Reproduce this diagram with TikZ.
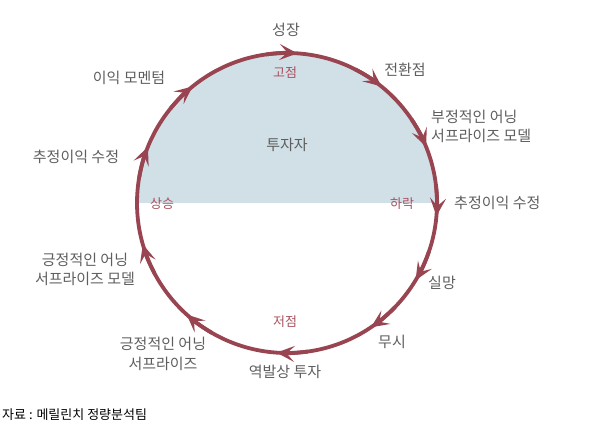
\documentclass[tikz,border=0pt]{standalone}
\usepackage{fontspec}
\setmainfont{Noto Sans CJK KR}
\usetikzlibrary{arrows.meta}
\definecolor{ringc}{HTML}{984451}
\definecolor{fillc}{HTML}{D1DFE6}
\definecolor{redlab}{HTML}{A8525F}
\definecolor{graylab}{HTML}{5E5E5E}
\tikzset{
  lab/.style={text=graylab, font=\fontsize{15bp}{19.5bp}\selectfont, inner sep=0pt, align=center},
  redl/.style={text=redlab, font=\fontsize{13bp}{15bp}\selectfont, inner sep=0pt},
  ring/.style={draw=ringc, line width=3.8bp},
  tip/.style={ringc, line width=3.8bp, -{Stealth[length=18bp,width=16bp,inset=8bp]}},
}
\begin{document}
\begin{tikzpicture}[x=1bp,y=1bp]
\useasboundingbox (0,0) rectangle (590,444);
\coordinate (c) at (287,241);
% upper half fill
\fill[fillc] ([xshift=-150bp]c) arc (180:0:150) -- cycle;
% ring
\draw[ring] (c) circle (150);
% arrowheads (clockwise)
\foreach \a in {90,55,26,-1,-27,-52,-90,-128,-160,162,133} {
  \draw[tip] ([shift={(\a+8:150)}]c) arc (\a+8:\a-4:150);
}
% labels
\node[lab] (growth) at (286,414) {성장};
\node[lab] (turn) at (405,374) {전환점};
\node[lab, anchor=west, align=left] (negsurp) at (431,317.5) {부정적인 어닝\\서프라이즈 모델};
\node[lab, anchor=west] (estR) at (454,241) {추정이익 수정};
\node[lab] (disap) at (442,161) {실망};
\node[lab] (ignore) at (392,102) {무시};
\node[lab] (contra) at (285,72) {역발상 투자};
\node[lab] (possurp) at (163,90) {긍정적인 어닝\\서프라이즈};
\node[lab] (posmodel) at (85,174.5) {긍정적인 어닝\\서프라이즈 모델};
\node[lab] (estL) at (76,287) {추정이익 수정};
\node[lab] (momentum) at (129,366) {이익 모멘텀};
\node[lab] (investor) at (287,299) {투자자};
\node[redl] (peak) at (285,371) {고점};
\node[redl] (rise) at (162,240) {상승};
\node[redl] (fall) at (402,240) {하락};
\node[redl] (trough) at (285,122) {저점};
\node[anchor=west, inner sep=0pt, font=\fontsize{13bp}{15bp}\selectfont] (src) at (2,29) {자료 : 메릴린치 정량분석팀};
\end{tikzpicture}
\end{document}
